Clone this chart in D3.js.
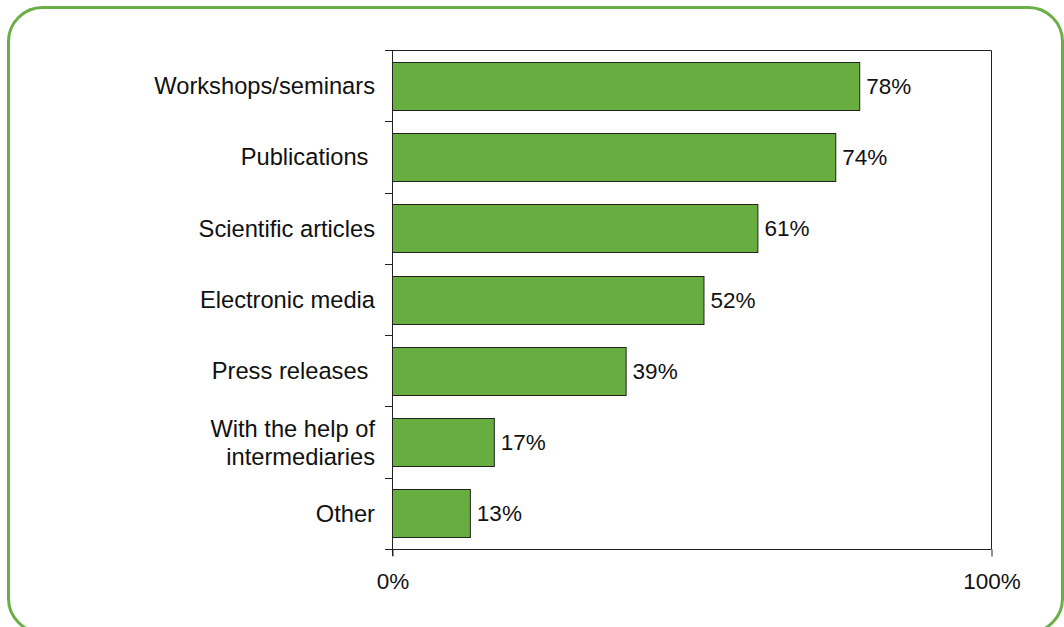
<!DOCTYPE html>
<html>
<head>
<meta charset="utf-8">
<script src="https://cdn.jsdelivr.net/npm/d3@7"></script>
<style>
  html, body { margin: 0; padding: 0; background: #fff; }
  svg { display: block; }
  text { font-family: "Liberation Sans", Arial, sans-serif; fill: #111; }
</style>
</head>
<body>
<svg id="chart" width="1064" height="627"></svg>
<script>
// Channels used, share of respondents (%)
const categories = [
  ["Workshops/seminars"],
  ["Publications "],
  ["Scientific articles"],
  ["Electronic media"],
  ["Press releases "],
  ["With the help of", "intermediaries"],
  ["Other"]
];
const values = [78, 74, 61, 52, 39, 17, 13];
const tickValues = [0, 100];

const svg = d3.select("#chart");

// Rounded frame
svg.append("rect")
  .attr("x", 8.5).attr("y", 7.5)
  .attr("width", 1054).attr("height", 625)
  .attr("rx", 34).attr("ry", 34)
  .attr("fill", "none")
  .attr("stroke", "#6aaf45")
  .attr("stroke-width", 3);

const plot = { left: 392, right: 991, top: 50, bottom: 549 };
const catFont = 23.7, valFont = 22.5;

const x = d3.scaleLinear().domain([0, 100]).range([plot.left, plot.right]);
const y = d3.scaleBand()
  .domain(d3.range(categories.length))
  .range([plot.top, plot.bottom])
  .paddingInner(0.33)
  .paddingOuter(0.165);

const step = y.step();
const g = svg.append("g");

// Plot box (top and right edges)
g.append("path")
  .attr("d", `M${plot.left},${plot.top + 0.5}H${plot.right + 0.5}V${plot.bottom}`)
  .attr("fill", "none").attr("stroke", "#222").attr("stroke-width", 1);

// Bars
g.selectAll("rect.bar")
  .data(values)
  .join("rect")
  .attr("class", "bar")
  .attr("x", x(0) + 0.5)
  .attr("y", (d, i) => Math.round(y(i)) + 0.5)
  .attr("width", d => x(d) - x(0))
  .attr("height", Math.round(y.bandwidth()))
  .attr("fill", "#67ad3f")
  .attr("stroke", "#222")
  .attr("stroke-width", 1);

// Value labels
g.selectAll("text.val")
  .data(values)
  .join("text")
  .attr("class", "val")
  .attr("x", d => x(d) + 7)
  .attr("y", (d, i) => y(i) + y.bandwidth() / 2)
  .attr("dy", "0.36em")
  .attr("font-size", valFont)
  .text(d => d + "%");

// Category axis (left) with ticks at band boundaries
const yAxisG = g.append("g");
yAxisG.append("line")
  .attr("x1", plot.left + 0.5).attr("x2", plot.left + 0.5)
  .attr("y1", plot.top).attr("y2", plot.bottom + 7)
  .attr("stroke", "#222");
const boundaries = d3.range(categories.length + 1).map(i => plot.top + i * step);
yAxisG.selectAll("line.tick")
  .data(boundaries)
  .join("line")
  .attr("class", "tick")
  .attr("x1", plot.left - 7).attr("x2", plot.left)
  .attr("y1", d => Math.round(d) + 0.5).attr("y2", d => Math.round(d) + 0.5)
  .attr("stroke", "#222");

// Category labels
const lineH = 28;
g.selectAll("text.cat")
  .data(categories)
  .join("text")
  .attr("class", "cat")
  .attr("text-anchor", "end")
  .attr("font-size", catFont)
  .attr("xml:space", "preserve")
  .style("white-space", "pre")
  .each(function(lines, i) {
    const cy = y(i) + y.bandwidth() / 2;
    const t = d3.select(this);
    lines.forEach((s, k) => {
      t.append("tspan")
        .attr("x", plot.left - 17)
        .attr("y", cy + (k - (lines.length - 1) / 2) * lineH)
        .attr("dy", "0.36em")
        .text(s);
    });
  });

// Value axis (bottom)
const xAxis = d3.axisBottom(x)
  .tickValues(tickValues)
  .tickSize(7)
  .tickSizeOuter(0)
  .tickPadding(17)
  .tickFormat(d => d + "%");
const xAxisG = g.append("g")
  .attr("transform", `translate(0.5,${plot.bottom + 0.5})`)
  .call(xAxis);
xAxisG.select(".domain").remove();
xAxisG.append("line")
  .attr("x1", plot.left - 7.5).attr("x2", plot.right)
  .attr("y1", 0).attr("y2", 0)
  .attr("stroke", "#222");
xAxisG.selectAll(".tick line").attr("stroke", "#222");
xAxisG.selectAll(".tick text")
  .attr("font-size", valFont)
  .attr("font-family", "'Liberation Sans', Arial, sans-serif")
  .attr("fill", "#111");
</script>
</body>
</html>
